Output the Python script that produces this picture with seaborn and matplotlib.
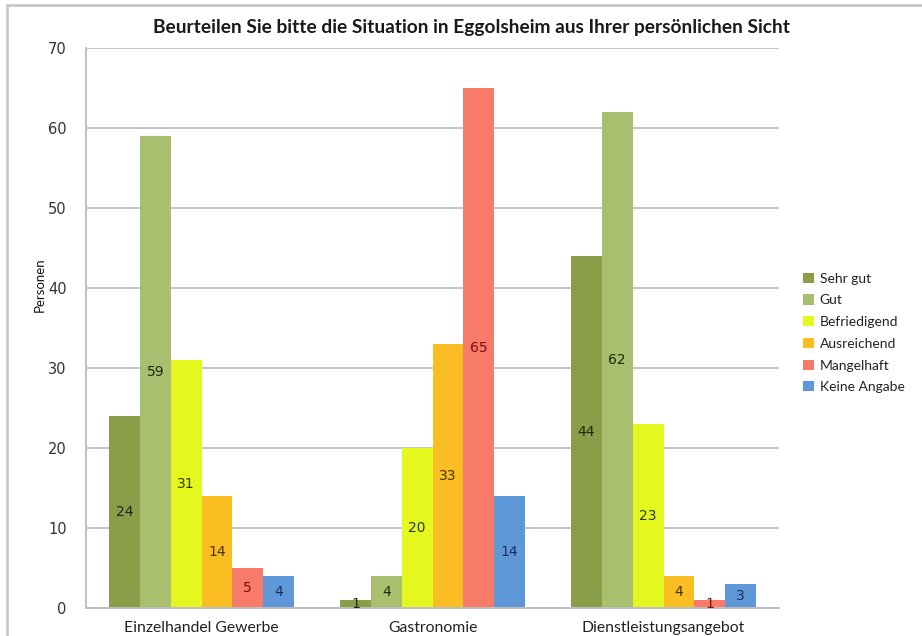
import matplotlib
matplotlib.use("Agg")
import matplotlib.pyplot as plt
from matplotlib.patches import Rectangle
import seaborn as sns
import pandas as pd

categories = ["Einzelhandel Gewerbe", "Gastronomie", "Dienstleistungsangebot"]
ratings = ["Sehr gut", "Gut", "Befriedigend", "Ausreichend", "Mangelhaft", "Keine Angabe"]
sehr_gut = [24, 1, 44]
gut = [59, 4, 62]
befriedigend = [31, 20, 23]
ausreichend = [14, 33, 4]
mangelhaft = [5, 65, 1]
keine_angabe = [4, 14, 3]
y_ticks = [0, 10, 20, 30, 40, 50, 60, 70]

colors = ["#8A9E4A", "#A7BF6E", "#E4F81F", "#FBBE22", "#F87A68", "#5F98D8"]
label_colors = ["#1e2a0c", "#1e2a0c", "#2e3a00", "#4a3000", "#7a1010", "#1a2f5a"]

series = [sehr_gut, gut, befriedigend, ausreichend, mangelhaft, keine_angabe]
rows = []
for r, vals in zip(ratings, series):
    for c, v in zip(categories, vals):
        rows.append({"Kategorie": c, "Bewertung": r, "Personen": v})
df = pd.DataFrame(rows)

sns.set_style("white")
plt.rcParams["font.family"] = ["Lato", "DejaVu Sans"]

fig = plt.figure(figsize=(9.22, 6.36), dpi=100)
ax = fig.add_axes([0.0933, 0.044, 0.7516, 0.8805])

sns.barplot(data=df, x="Kategorie", y="Personen", hue="Bewertung",
            hue_order=ratings, order=categories, palette=colors,
            width=0.8, saturation=1, ax=ax, linewidth=0, errorbar=None)

for cont, lc in zip(ax.containers, label_colors):
    ax.bar_label(cont, label_type="center", fontsize=10, color=lc,
                 family="DejaVu Sans")

ax.set_xlim(-0.5, 2.5)
ax.set_ylim(0, 70)
ax.set_yticks(y_ticks)
ax.set_yticklabels([str(t) for t in y_ticks], family="DejaVu Sans",
                   fontsize=10.5, color="#333333")
ax.tick_params(axis="y", length=5, width=1.2, color="#bfbfbf", pad=9, direction="out")
ax.tick_params(axis="x", length=0, pad=9, labelsize=11.3, labelcolor="#222222")
ax.yaxis.grid(True, color="#c4c4c4", linewidth=1.4)
ax.set_axisbelow(True)
for side in ["top", "right"]:
    ax.spines[side].set_visible(False)
for side in ["left", "bottom"]:
    ax.spines[side].set_color("#bfbfbf")
    ax.spines[side].set_linewidth(1.4)

ax.set_xlabel("")
ax.set_ylabel("Personen", fontsize=9.5, color="#111111")
ax.yaxis.set_label_coords(-0.058, 0.578)

ax.set_title("Beurteilen Sie bitte die Situation in Eggolsheim aus Ihrer persönlichen Sicht",
             fontsize=13.8, fontweight="bold", color="#1a1a1a", pad=11, x=0.556)

handles, labels = ax.get_legend_handles_labels()
leg = fig.legend(handles, labels, loc="upper left", bbox_to_anchor=(0.8575, 0.591),
                 frameon=False, fontsize=10, handlelength=0.75, handleheight=0.75,
                 handletextpad=0.45, labelspacing=0.7)
for t in leg.get_texts():
    t.set_color("#222222")
if ax.get_legend() is not None:
    ax.get_legend().remove()

# light frame around the chart area
fig.patches.append(Rectangle((0.0075, -0.01), 1.0, 1.002, transform=fig.transFigure,
                             fill=False, edgecolor="#c8c8c8", linewidth=2.0))

fig.savefig("out.png", dpi=100)
